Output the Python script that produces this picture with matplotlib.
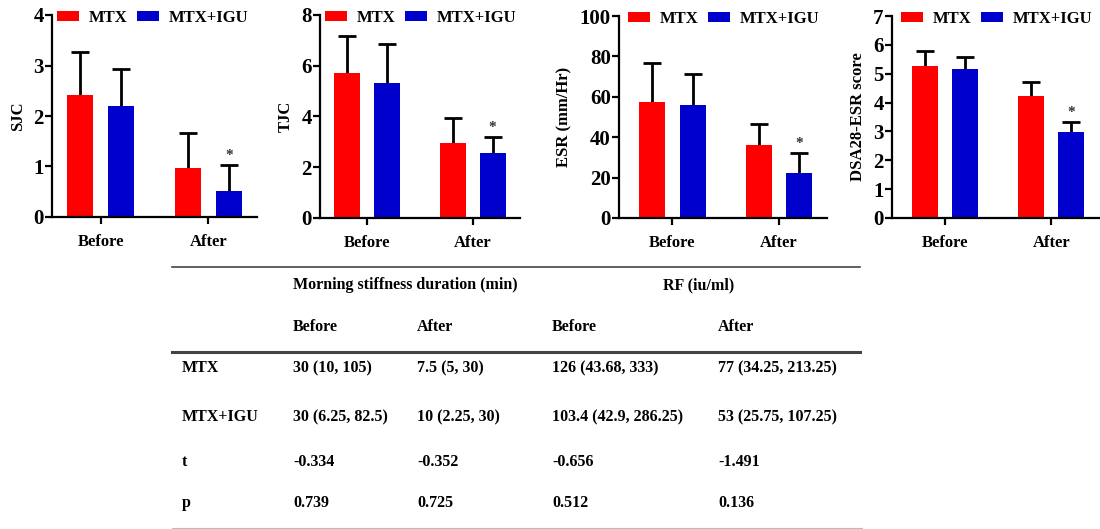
import matplotlib
matplotlib.use('Agg')
import matplotlib.pyplot as plt
import numpy as np
from matplotlib.lines import Line2D

plt.rcParams['font.family'] = ['Liberation Serif', 'DejaVu Serif']
plt.rcParams['font.weight'] = 'bold'

# 数据
groups = ['Before', 'After']
series = ['MTX', 'MTX+IGU']
colors = ['#FF0000', '#0000CC']

ylabels = ['SJC', 'TJC', 'ESR (mm/Hr)', 'DSA28-ESR score']
ymax = [4, 8, 100, 7]
ystep = [1, 2, 20, 1]

sjc_mtx = [2.42, 0.98]
sjc_mtx_sd = [0.84, 0.69]
sjc_igu = [2.19, 0.52]
sjc_igu_sd = [0.75, 0.51]

tjc_mtx = [5.73, 2.95]
tjc_mtx_sd = [1.44, 1.01]
tjc_igu = [5.31, 2.56]
tjc_igu_sd = [1.54, 0.65]

esr_mtx = [57.2, 36.2]
esr_mtx_sd = [19.6, 10.2]
esr_igu = [55.8, 22.2]
esr_igu_sd = [15.4, 10.2]

das_mtx = [5.27, 4.24]
das_mtx_sd = [0.52, 0.47]
das_igu = [5.17, 2.98]
das_igu_sd = [0.40, 0.36]

table_groups = ['Morning stiffness duration (min)', 'RF (iu/ml)']
table_cols = ['Before', 'After', 'Before', 'After']
table_rows = ['MTX', 'MTX+IGU', 't', 'p']
table_cells = [
    ['30 (10, 105)', '7.5 (5, 30)', '126 (43.68, 333)', '77 (34.25, 213.25)'],
    ['30 (6.25, 82.5)', '10 (2.25, 30)', '103.4 (42.9, 286.25)', '53 (25.75, 107.25)'],
    ['-0.334', '-0.352', '-0.656', '-1.491'],
    ['0.739', '0.725', '0.512', '0.136'],
]

panels = [
    (sjc_mtx, sjc_mtx_sd, sjc_igu, sjc_igu_sd),
    (tjc_mtx, tjc_mtx_sd, tjc_igu, tjc_igu_sd),
    (esr_mtx, esr_mtx_sd, esr_igu, esr_igu_sd),
    (das_mtx, das_mtx_sd, das_igu, das_igu_sd),
]

W, H = 1100, 529
fig = plt.figure(figsize=(W / 100, H / 100), dpi=100)


def px(x, y):
    return x / W, 1 - y / H


# 坐标轴位置 (像素: 左, 右, 上, 下)
rects = [(52, 257, 15, 217), (320, 520, 15, 218), (619, 827, 16, 218), (892, 1099, 16, 218)]
xleft = [-0.45, -0.45, -0.5, -0.5]
leg_x = [5, 5, 9, 9]

x = np.arange(len(groups))
off = 0.19
bw = 0.245


def up_errorbar(ax, xs, ys, sd):
    # 只画向上的误差线, 去掉柱顶的下端横线
    _, caps, _ = ax.errorbar(xs, ys, yerr=[np.zeros(len(sd)), sd], fmt='none',
                             ecolor='black', elinewidth=2, capsize=6.5, capthick=2, zorder=1)
    caps[0].set_visible(False)


for i, (m, msd, g, gsd) in enumerate(panels):
    l, r, t, b = rects[i]
    ax = fig.add_axes([l / W, 1 - b / H, (r - l) / W, (b - t) / H])
    ax.bar(x - off, m, bw, color=colors[0], label=series[0], zorder=2)
    up_errorbar(ax, x - off, m, msd)
    ax.bar(x + off, g, bw, color=colors[1], label=series[1], zorder=2)
    up_errorbar(ax, x + off, g, gsd)
    # 显著性星号
    ax.text(x[1] + off, g[1] + gsd[1] + ymax[i] * 0.015, '*', ha='center', va='bottom',
            fontsize=11, color='#333333')
    ax.set_xlim(xleft[i], 1.45)
    ax.set_ylim(0, ymax[i])
    ax.set_yticks(np.arange(0, ymax[i] + 0.01, ystep[i]))
    ax.set_xticks(x)
    ax.set_xticklabels(groups, fontsize=12, fontweight='bold')
    for lab in ax.get_yticklabels():
        lab.set_fontsize(15)
        lab.set_fontweight('bold')
    ax.set_ylabel(ylabels[i], fontsize=12, fontweight='bold', labelpad=5)
    ax.spines['top'].set_visible(False)
    ax.spines['right'].set_visible(False)
    ax.spines['left'].set_linewidth(1.6)
    ax.spines['bottom'].set_linewidth(1.6)
    ax.tick_params(axis='y', length=5, width=1.6, pad=1)
    ax.tick_params(axis='x', length=5, width=1.6, pad=7)
    ax.legend(ncol=2, loc='center left', bbox_to_anchor=(leg_x[i] / (r - l), 1 - 3 / (b - t)),
              frameon=False, handlelength=1.3, handleheight=0.6, handletextpad=0.6,
              columnspacing=0.6, borderpad=0, borderaxespad=0,
              prop={'weight': 'bold', 'size': 12})

# 表格
fig.add_artist(Line2D([172 / W, 860 / W], [1 - 267 / H] * 2, color='#444444', lw=1.2))
fig.add_artist(Line2D([172 / W, 860 / W], [1 - 352 / H] * 2, color='#444444', lw=2.2))
fig.add_artist(Line2D([172 / W, 862 / W], [1 - 528 / H] * 2, color='#bbbbbb', lw=0.8))

col_x = [293, 417, 552, 718]
group_x = [293, 663]
row_y = [368, 417, 462, 503]
tfs = 11.5

for gx, gname in zip(group_x, table_groups):
    fig.text(*px(gx, 285), gname, fontsize=tfs, fontweight='bold', va='center', ha='left')
for cx, cname in zip(col_x, table_cols):
    fig.text(*px(cx, 327), cname, fontsize=tfs, fontweight='bold', va='center', ha='left')
for ry, rname, cells in zip(row_y, table_rows, table_cells):
    fig.text(*px(182, ry), rname, fontsize=tfs, fontweight='bold', va='center', ha='left')
    for cx, c in zip(col_x, cells):
        fig.text(*px(cx, ry), c, fontsize=tfs, fontweight='bold', va='center', ha='left')

fig.savefig('out.png', dpi=100, facecolor='white')
